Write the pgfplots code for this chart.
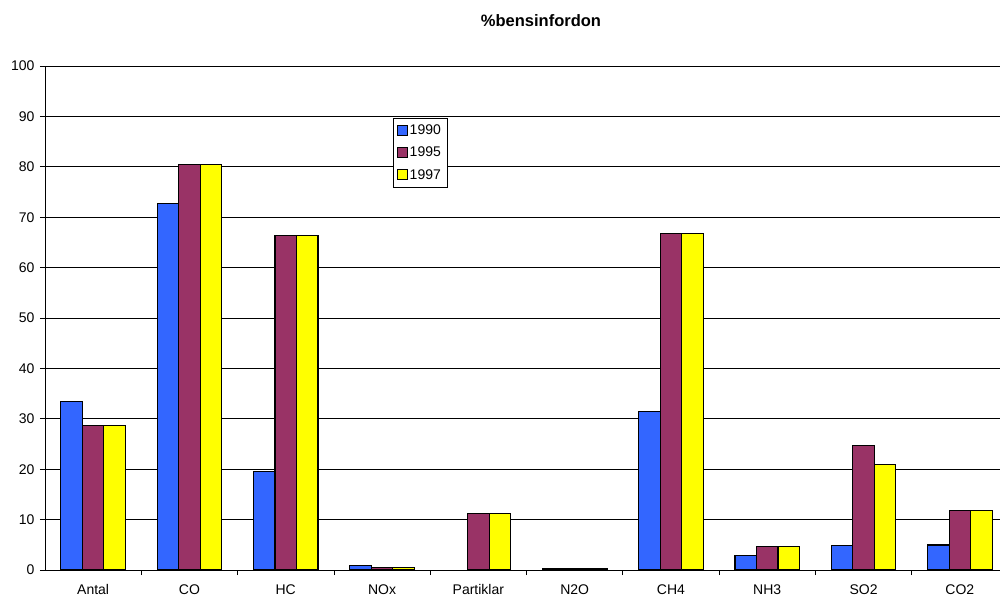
\documentclass[border=0pt]{standalone}
\usepackage{pgfplots}
\pgfplotsset{compat=1.18}
\usepackage{fontspec}
\setmainfont{Liberation Sans}
\definecolor{c1990}{HTML}{3366FF}
\definecolor{c1995}{HTML}{993366}
\definecolor{c1997}{HTML}{FFFF00}
\newcommand{\chartfont}{\fontsize{14}{16}\selectfont}
\begin{document}
\begin{tikzpicture}
\begin{axis}[
  name=ax,
  scale only axis,
  width=955pt, height=504pt,
  xmin=-0.5, xmax=9.417,
  ymin=0, ymax=100,
  ytick={0,10,...,100},
  xtick={0,...,9},
  xticklabels={Antal,CO,HC,NOx,Partiklar,N2O,CH4,NH3,SO2,CO2},
  minor xtick={0.5,1.5,...,8.5},
  major x tick style={draw=none},
  tick align=outside,
  major tick length=5pt,
  minor tick length=5pt,
  axis x line*=bottom,
  axis y line*=left,
  axis line style={-, black, line width=0.8pt},
  tick style={black, line width=0.8pt},
  ymajorgrids,
  grid style={black, line width=0.8pt},
  ybar=0pt,
  bar width=21.5pt,
  every axis plot/.append style={draw=black, line width=1.2pt},
  font=\chartfont,
  ticklabel style={font=\chartfont},
  /pgf/number format/assume math mode=true,
  yticklabel style={xshift=-2pt},
  xticklabel style={yshift=-6pt},
  legend cell align=left,
  legend style={at={(axis description cs:0.364,0.897)}, anchor=north west,
    draw=black, line width=0.6pt,
    font=\chartfont,
    inner xsep=4pt, inner ysep=4.5pt},
  every axis legend/.append style={row sep=7pt},
  legend image code/.code={\draw[#1, line width=0.8pt] (0pt,-5pt) rectangle (10pt,5pt);},
]
\addplot[fill=c1990] coordinates {(0,33.5) (1,72.7) (2,19.6) (3,0.9) (5,0.25) (6,31.5) (7,2.85) (8,4.9) (9,4.95)};
\addplot[fill=c1995] coordinates {(0,28.7) (1,80.4) (2,66.4) (3,0.5) (4,11.2) (5,0.25) (6,66.8) (7,4.6) (8,24.7) (9,11.8)};
\addplot[fill=c1997] coordinates {(0,28.7) (1,80.4) (2,66.4) (3,0.5) (4,11.2) (5,0.25) (6,66.8) (7,4.6) (8,21.0) (9,11.8)};
\legend{1990,1995,1997}
\end{axis}
\node[font=\bfseries\fontsize{16.5}{19}\selectfont] at ([xshift=496pt,yshift=45pt]ax.north west) {\%bensinfordon};
\pgfresetboundingbox
\path ([xshift=-45pt,yshift=-28pt]ax.south west) rectangle ([yshift=66pt]ax.north east);
\end{tikzpicture}
\end{document}
